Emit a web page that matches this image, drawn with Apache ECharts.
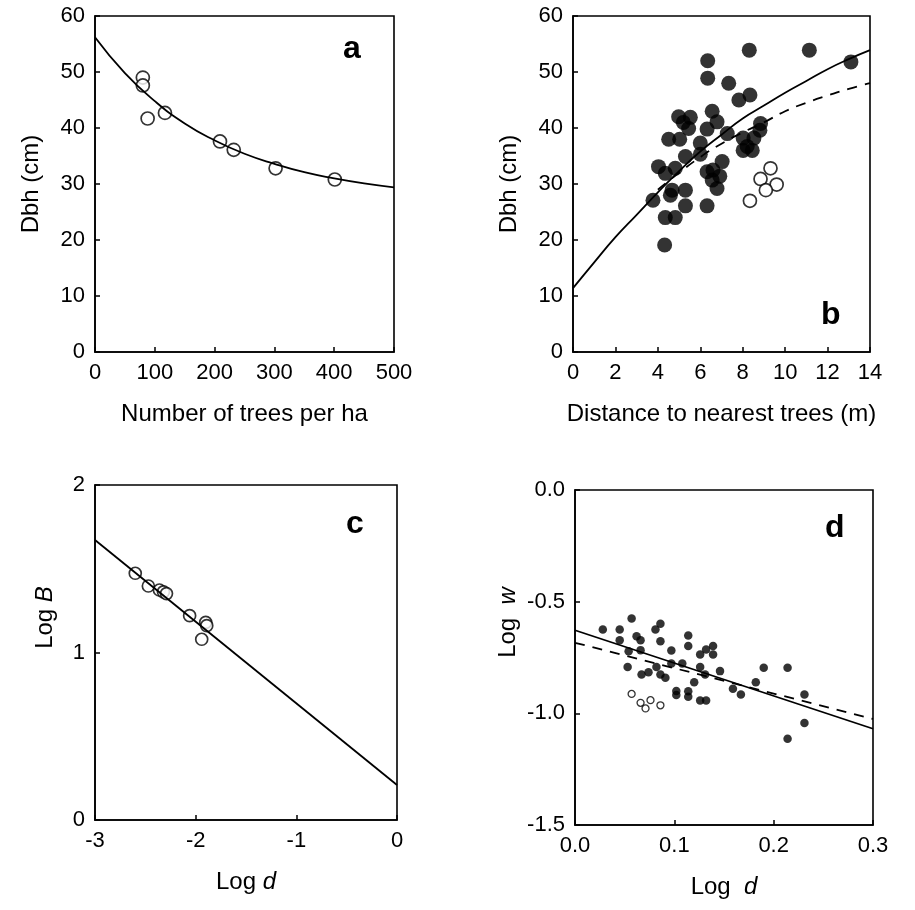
<!DOCTYPE html>
<html>
<head>
<meta charset="utf-8">
<script src="https://cdn.jsdelivr.net/npm/echarts@6/dist/echarts.min.js"></script>
<style>
  html, body { margin: 0; padding: 0; background: #fff; }
  #chart { width: 915px; height: 910px; }
</style>
</head>
<body>
<div id="chart"></div>
<script>
// ---- (a) Dbh vs stand density ----
const treesPerHa = [80, 80, 88, 117, 209, 232, 302, 401];
const dbhByDensity = [49.0, 47.6, 41.7, 42.7, 37.6, 36.1, 32.8, 30.8];
const densityFitX = [0, 50, 100, 150, 200, 250, 300, 350, 400, 450, 500];
const densityFitY = [56.2, 49.8, 44.8, 40.8, 37.8, 35.4, 33.6, 32.1, 31.0, 30.1, 29.4];

// ---- (b) Dbh vs distance to nearest trees ----
const distFilled = [4.98, 5.53, 5.45, 5.20, 6.56, 6.79, 6.32, 7.27, 4.51, 5.03, 6.00, 5.30, 6.00,
  4.03, 4.82, 4.35, 6.32, 7.03, 6.56, 6.79, 6.92, 6.60, 3.77, 4.67, 5.30, 4.59, 5.30, 6.32,
  4.35, 4.82, 4.32, 6.35, 6.35, 8.31, 7.34, 7.82, 8.34, 11.14, 13.10, 8.84, 8.81, 8.02, 8.53,
  8.21, 8.02, 8.45];
const dbhFilled = [42.0, 41.9, 39.9, 41.0, 43.0, 41.1, 39.8, 39.0, 38.0, 38.0, 37.3, 34.9, 35.3,
  33.1, 32.8, 31.9, 32.2, 34.0, 30.7, 29.2, 31.4, 32.5, 27.1, 28.9, 28.9, 28.0, 26.1, 26.1,
  24.0, 24.0, 19.1, 52.0, 48.9, 53.9, 48.0, 45.0, 45.9, 53.9, 51.8, 40.8, 39.6, 38.2, 38.2,
  36.7, 36.0, 36.0];
const distOpen = [9.31, 8.84, 9.60, 9.09, 8.34];
const dbhOpen = [32.8, 30.9, 29.9, 28.9, 27.0];
const distFitX = [0, 1, 2, 3, 4, 5, 6, 7, 8, 9, 10, 11, 12, 13, 14];
const distFitSolid = [11.4, 16.0, 20.5, 24.5, 28.5, 32.3, 35.8, 38.8, 41.7, 44.0, 46.3, 48.4, 50.5, 52.3, 53.9];
const distFitDashX = [4, 5, 6, 7, 8, 9, 10, 11, 12, 13, 14];
const distFitDash = [29.0, 32.0, 34.8, 37.2, 39.2, 41.0, 43.0, 44.5, 45.8, 47.0, 48.0];

// ---- (c) Log B vs Log d ----
const logDc = [-2.60, -2.47, -2.36, -2.32, -2.29, -2.06, -1.90, -1.89, -1.94];
const logB = [1.473, 1.397, 1.373, 1.362, 1.352, 1.220, 1.180, 1.160, 1.079];
const lineCx = [-3, 0];
const lineCy = [1.672, 0.209];

// ---- (d) Log w vs Log d ----
const logDdFilled = [0.028, 0.045, 0.057, 0.045, 0.062, 0.066, 0.081, 0.086, 0.086, 0.114, 0.114,
  0.097, 0.054, 0.066, 0.053, 0.067, 0.074, 0.082, 0.086, 0.091, 0.097, 0.108, 0.126, 0.132,
  0.139, 0.139, 0.126, 0.131, 0.120, 0.146, 0.102, 0.102, 0.114, 0.114, 0.126, 0.132, 0.159,
  0.167, 0.182, 0.190, 0.214, 0.231, 0.231, 0.214];
const logWFilled = [-0.625, -0.625, -0.575, -0.673, -0.655, -0.673, -0.625, -0.599, -0.677, -0.652, -0.699,
  -0.719, -0.722, -0.717, -0.793, -0.826, -0.816, -0.793, -0.826, -0.841, -0.777, -0.777, -0.737, -0.714,
  -0.699, -0.737, -0.793, -0.826, -0.861, -0.811, -0.900, -0.918, -0.901, -0.926, -0.943, -0.943, -0.890,
  -0.916, -0.861, -0.796, -0.796, -0.916, -1.043, -1.114];
const logDdOpen = [0.057, 0.066, 0.071, 0.076, 0.086];
const logWOpen = [-0.913, -0.953, -0.978, -0.941, -0.964];
const lineDx = [0, 0.3];
const lineDSolid = [-0.628, -1.069];
const lineDDash = [-0.684, -1.025];

const pairs = (xs, ys) => xs.map((x, i) => [x, ys[i]]);

const FONT = 'Liberation Sans';
const INK = '#000';

function axisBase(extra) {
  return Object.assign({
    type: 'value',
    splitLine: { show: false },
    axisLine: { show: true, onZero: false, lineStyle: { color: INK, width: 1.6 } },
    axisTick: { show: true, inside: true, length: 5, lineStyle: { color: INK, width: 1.5 } },
    axisLabel: { color: INK, fontFamily: FONT, fontSize: 22, margin: 10 },
    nameLocation: 'middle',
    nameTextStyle: { color: INK, fontFamily: FONT, fontSize: 24 }
  }, extra);
}

const gridStyle = { show: true, borderColor: INK, borderWidth: 1.6, backgroundColor: 'transparent' };

const openCircle = (size) => ({
  type: 'scatter', symbol: 'circle', symbolSize: size,
  itemStyle: { color: '#fff', borderColor: INK, borderWidth: 1.7 }
});
const filledCircle = (size) => ({
  type: 'scatter', symbol: 'circle', symbolSize: size,
  itemStyle: { color: INK, borderColor: INK, borderWidth: 0 }
});
const fitLine = (dashed, smooth) => ({
  type: 'line', symbol: 'none', smooth: smooth, silent: true,
  lineStyle: { color: INK, width: 1.8, type: dashed ? [10, 8] : 'solid' }
});

const richName = (extra) => Object.assign({
  rich: {
    n: { fontFamily: FONT, fontSize: 24, color: INK },
    i: { fontFamily: FONT, fontSize: 24, color: INK, fontStyle: 'italic' }
  }
}, extra);

const decimalLabel = { color: INK, fontFamily: FONT, fontSize: 22, margin: 10, formatter: v => v.toFixed(1) };

const option = {
  animation: false,
  backgroundColor: '#fff',
  grid: [
    Object.assign({ left: 95, top: 16, width: 299, height: 336 }, gridStyle),
    Object.assign({ left: 573, top: 16, width: 297, height: 336 }, gridStyle),
    Object.assign({ left: 95, top: 485, width: 302, height: 335 }, gridStyle),
    Object.assign({ left: 575, top: 490, width: 298, height: 335 }, gridStyle)
  ],
  xAxis: [
    axisBase({ gridIndex: 0, min: 0, max: 500, interval: 100, name: 'Number of trees per ha', nameGap: 50 }),
    axisBase({ gridIndex: 1, min: 0, max: 14, interval: 2, name: 'Distance to nearest trees (m)', nameGap: 50 }),
    axisBase({ gridIndex: 2, min: -3, max: 0, interval: 1,
      name: '{n|Log }{i|d}', nameGap: 50, nameTextStyle: richName({}) }),
    axisBase({ gridIndex: 3, min: 0, max: 0.3, interval: 0.1, axisLabel: decimalLabel,
      name: '{n|Log  }{i|d}', nameGap: 50, nameTextStyle: richName({}) })
  ],
  yAxis: [
    axisBase({ gridIndex: 0, min: 0, max: 60, interval: 10, name: 'Dbh (cm)', nameGap: 52 }),
    axisBase({ gridIndex: 1, min: 0, max: 60, interval: 10, name: 'Dbh (cm)', nameGap: 52 }),
    axisBase({ gridIndex: 2, min: 0, max: 2, interval: 1,
      name: '{n|Log }{i|B}', nameGap: 38, nameTextStyle: richName({ padding: [0, 0, 0, 70] }) }),
    axisBase({ gridIndex: 3, min: -1.5, max: 0, interval: 0.5, axisLabel: decimalLabel,
      name: '{n|Log  }{i|w}', nameGap: 55, nameTextStyle: richName({ padding: [0, 0, 0, 70] }) })
  ],
  series: [
    Object.assign(fitLine(false, true), { xAxisIndex: 0, yAxisIndex: 0, data: pairs(densityFitX, densityFitY) }),
    Object.assign(openCircle(13), { xAxisIndex: 0, yAxisIndex: 0, data: pairs(treesPerHa, dbhByDensity) }),

    Object.assign(fitLine(false, true), { xAxisIndex: 1, yAxisIndex: 1, data: pairs(distFitX, distFitSolid) }),
    Object.assign(fitLine(true, true), { xAxisIndex: 1, yAxisIndex: 1, data: pairs(distFitDashX, distFitDash) }),
    Object.assign(filledCircle(15), { xAxisIndex: 1, yAxisIndex: 1, data: pairs(distFilled, dbhFilled) }),
    Object.assign(openCircle(13), { xAxisIndex: 1, yAxisIndex: 1, data: pairs(distOpen, dbhOpen) }),

    Object.assign(fitLine(false, false), { xAxisIndex: 2, yAxisIndex: 2, data: pairs(lineCx, lineCy) }),
    Object.assign(openCircle(12), { xAxisIndex: 2, yAxisIndex: 2, data: pairs(logDc, logB) }),

    Object.assign(fitLine(false, false), { xAxisIndex: 3, yAxisIndex: 3, data: pairs(lineDx, lineDSolid) }),
    Object.assign(fitLine(true, false), { xAxisIndex: 3, yAxisIndex: 3, data: pairs(lineDx, lineDDash) }),
    Object.assign(filledCircle(8.5), { xAxisIndex: 3, yAxisIndex: 3, data: pairs(logDdFilled, logWFilled) }),
    Object.assign(openCircle(7), { xAxisIndex: 3, yAxisIndex: 3, data: pairs(logDdOpen, logWOpen),
      itemStyle: { color: '#fff', borderColor: INK, borderWidth: 1.3 } })
  ],
  graphic: [
    { type: 'text', left: 343, top: 33, style: { text: 'a', font: 'bold 32px "Liberation Sans"', fill: INK } },
    { type: 'text', left: 821, top: 299, style: { text: 'b', font: 'bold 32px "Liberation Sans"', fill: INK } },
    { type: 'text', left: 346, top: 508, style: { text: 'c', font: 'bold 32px "Liberation Sans"', fill: INK } },
    { type: 'text', left: 825, top: 512, style: { text: 'd', font: 'bold 32px "Liberation Sans"', fill: INK } }
  ]
};

const chart = echarts.init(document.getElementById('chart'), null, { renderer: 'canvas' });
chart.setOption(option);
</script>
</body>
</html>
